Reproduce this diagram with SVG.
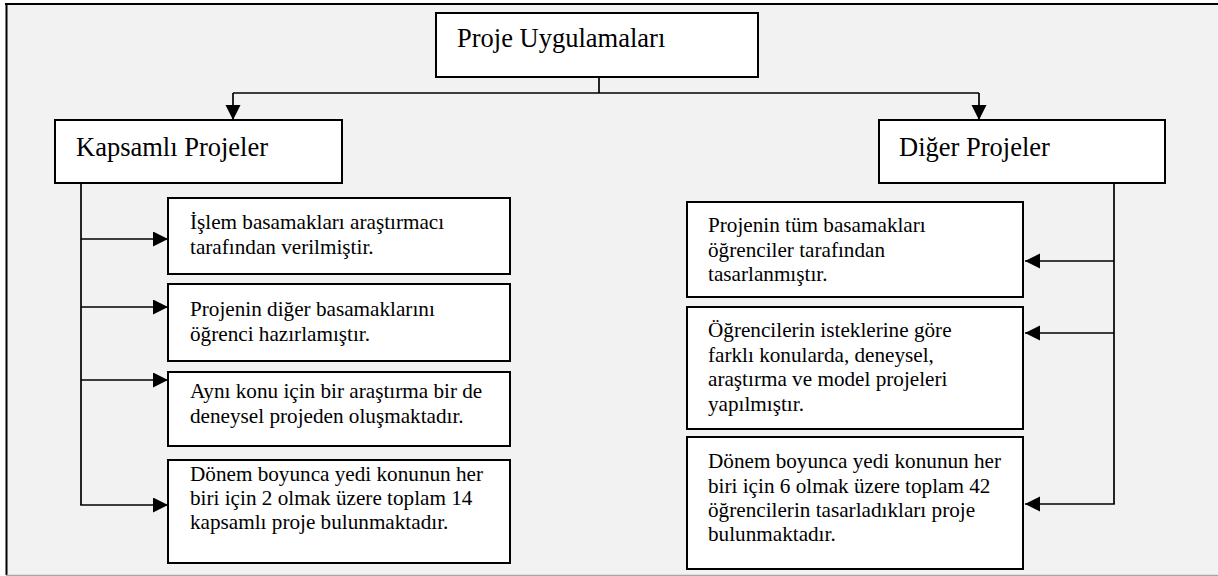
<svg xmlns="http://www.w3.org/2000/svg" width="1218" height="576" viewBox="0 0 1218 576">
<style>
.box{fill:#ffffff;stroke:#000000;stroke-width:2}
.t{font-family:"Liberation Serif","Times New Roman",serif;fill:#000000}
.big{font-size:26.5px}
.sm{font-size:21.2px}
.c{fill:none;stroke:#000000;stroke-width:1.7}
</style>
<defs>
<marker id="ah" markerUnits="userSpaceOnUse" markerWidth="16" markerHeight="16" refX="15" refY="7.5" orient="auto">
<path d="M0,0 L15,7.5 L0,15 z" fill="#000000"/>
</marker>
</defs>
<rect x="0" y="0" width="1218" height="576" fill="#ffffff"/>
<rect x="6" y="4" width="1212" height="571" fill="#f2f2f2"/>
<line x1="5" y1="4" x2="1218" y2="4" stroke="#000000" stroke-width="2.2"/>
<line x1="6.5" y1="3" x2="6.5" y2="575" stroke="#000000" stroke-width="2"/>
<line x1="6" y1="575.5" x2="1218" y2="575.5" stroke="#a6a6a6" stroke-width="1.5"/>

<g id="connectors">
<polyline class="c" points="599,77 599,93"/>
<polyline class="c" points="233,93 979,93"/>
<line class="c" x1="233" y1="93" x2="233" y2="120" marker-end="url(#ah)"/>
<line class="c" x1="979" y1="93" x2="979" y2="120" marker-end="url(#ah)"/>
<polyline class="c" points="81,183 81,505"/>
<line class="c" x1="81" y1="239" x2="168" y2="239" marker-end="url(#ah)"/>
<line class="c" x1="81" y1="307" x2="168" y2="307" marker-end="url(#ah)"/>
<line class="c" x1="81" y1="380" x2="168" y2="380" marker-end="url(#ah)"/>
<line class="c" x1="80.2" y1="505" x2="168" y2="505" marker-end="url(#ah)"/>
<polyline class="c" points="1114,183 1114,504"/>
<line class="c" x1="1114" y1="261" x2="1025" y2="261" marker-end="url(#ah)"/>
<line class="c" x1="1114" y1="333" x2="1025" y2="333" marker-end="url(#ah)"/>
<line class="c" x1="1114.8" y1="504" x2="1025" y2="504" marker-end="url(#ah)"/>
</g>

<g id="root">
<rect class="box" x="436" y="13" width="322" height="64"/>
<text class="t big" x="457" y="47">Proje Uygulamaları</text>
</g>

<g id="kapsamli">
<rect class="box" x="55" y="120" width="287" height="63"/>
<text class="t big" x="76" y="156">Kapsamlı Projeler</text>
</g>

<g id="diger">
<rect class="box" x="879" y="120" width="286" height="63"/>
<text class="t big" x="899" y="156">Diğer Projeler</text>
</g>

<g id="k1">
<rect class="box" x="168" y="198" width="342" height="76"/>
<text class="t sm" x="190" y="229">İşlem basamakları araştırmacı</text>
<text class="t sm" x="190" y="254">tarafından verilmiştir.</text>
</g>

<g id="k2">
<rect class="box" x="168" y="284" width="342" height="77"/>
<text class="t sm" x="190" y="316">Projenin diğer basamaklarını</text>
<text class="t sm" x="190" y="341">öğrenci hazırlamıştır.</text>
</g>

<g id="k3">
<rect class="box" x="168" y="372" width="342" height="74"/>
<text class="t sm" x="190" y="398">Aynı konu için bir araştırma bir de</text>
<text class="t sm" x="190" y="423">deneysel projeden oluşmaktadır.</text>
</g>

<g id="k4">
<rect class="box" x="168" y="460" width="342" height="103"/>
<text class="t sm" x="190" y="481">Dönem boyunca yedi konunun her</text>
<text class="t sm" x="190" y="505">biri için 2 olmak üzere toplam 14</text>
<text class="t sm" x="190" y="529">kapsamlı proje bulunmaktadır.</text>
</g>

<g id="d1">
<rect class="box" x="687" y="202" width="336" height="95"/>
<text class="t sm" x="708" y="232">Projenin tüm basamakları</text>
<text class="t sm" x="708" y="257">öğrenciler tarafından</text>
<text class="t sm" x="708" y="281">tasarlanmıştır.</text>
</g>

<g id="d2">
<rect class="box" x="687" y="307" width="336" height="122"/>
<text class="t sm" x="708" y="337">Öğrencilerin isteklerine göre</text>
<text class="t sm" x="708" y="362">farklı konularda, deneysel,</text>
<text class="t sm" x="708" y="386">araştırma ve model projeleri</text>
<text class="t sm" x="708" y="411">yapılmıştır.</text>
</g>

<g id="d3">
<rect class="box" x="687" y="437" width="336" height="132"/>
<text class="t sm" x="708" y="468">Dönem boyunca yedi konunun her</text>
<text class="t sm" x="708" y="493">biri için 6 olmak üzere toplam 42</text>
<text class="t sm" x="708" y="517">öğrencilerin tasarladıkları proje</text>
<text class="t sm" x="708" y="541">bulunmaktadır.</text>
</g>
</svg>
